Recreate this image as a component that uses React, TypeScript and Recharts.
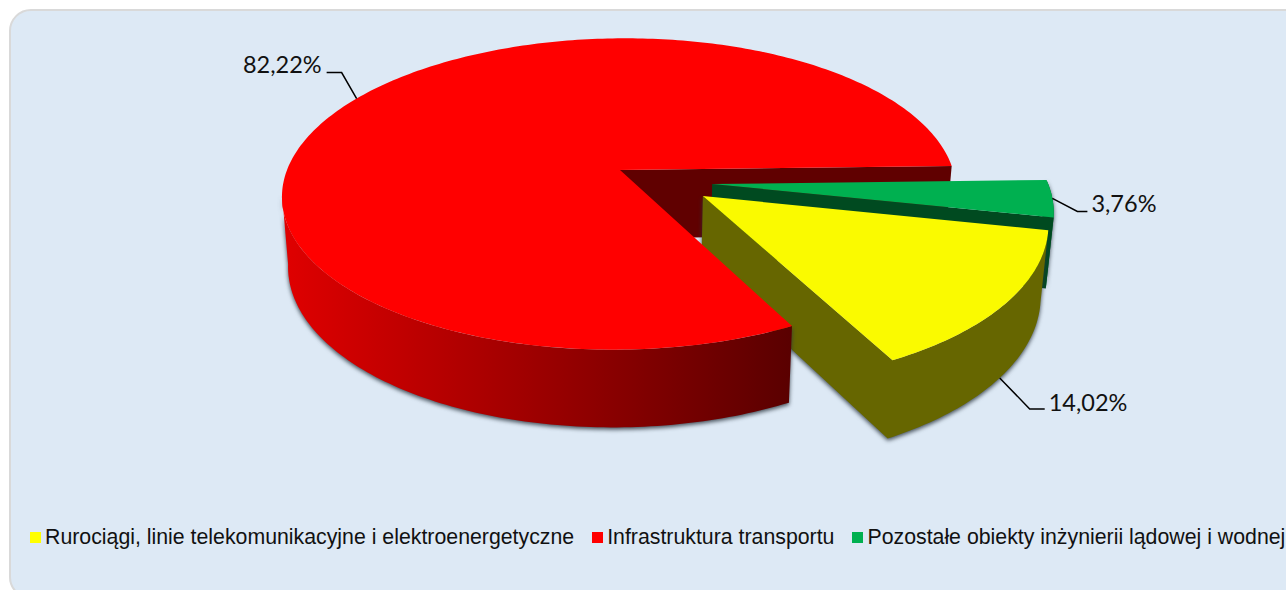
import { Legend, Pie, PieChart } from 'recharts';

const categories = [
  'Rurociągi, linie telekomunikacyjne i elektroenergetyczne',
  'Infrastruktura transportu',
  'Pozostałe obiekty inżynierii lądowej i wodnej',
];
const shares = [14.02, 82.22, 3.76];
const topColors = ['#FAFA00', '#FF0000', '#00B050'];
const legendColors = ['#FFFF00', '#FF0000', '#00B050'];

const pieData = categories.map((name, i) => ({ name, value: shares[i], fill: legendColors[i] }));

// fake 3d: the flat disc is run through a small perspective projection
const RY_RATIO = 152 / 333;
const PERSPECTIVE = 0.154;
const SHEAR = 0.04;
const FLOOR_SCALE = 0.982;
const DEPTH = 68.5;
const RED_WALL_END = -171;

// exploded slices, in disc units
const explode = [
  { u: 0.2455, v: -0.167, rim: 0.995 },
  { u: 0, v: 0, rim: 1 },
  { u: 0.2746, v: -0.091, rim: 0.995 },
];

// leader line elbows from the anchor point
const leaders = [
  { dx: 30, dy: 31, run: 15, onFloor: true, textY: -4 },
  { dx: -15, dy: -26, run: -15, onFloor: false, textY: -5 },
  { dx: 25, dy: 13, run: 10, onFloor: false, textY: -5 },
];

const rad = (deg: number) => (deg * Math.PI) / 180;

function project(cx: number, cy: number, r: number, u: number, v: number, floor = false) {
  const w = 1 + PERSPECTIVE * v;
  const y = (-r * RY_RATIO * v) / w;
  const x = (r * u) / w - SHEAR * y;
  if (!floor) return { x: cx + x, y: cy + y };
  return { x: cx + x * FLOOR_SCALE, y: cy + y * FLOOR_SCALE + DEPTH / w };
}

function rimPoint(p: any, i: number, angle: number, floor = false) {
  const off = explode[i];
  const u = Math.cos(rad(angle)) * off.rim + off.u;
  const v = Math.sin(rad(angle)) * off.rim + off.v;
  return project(p.cx, p.cy, p.outerRadius, u, v, floor);
}

function apexPoint(p: any, i: number, floor = false) {
  return project(p.cx, p.cy, p.outerRadius, explode[i].u, explode[i].v, floor);
}

function rim(p: any, i: number, from: number, to: number, floor = false) {
  const steps = Math.max(2, Math.ceil(Math.abs(to - from)));
  const pts = [];
  for (let s = 0; s <= steps; s++) pts.push(rimPoint(p, i, from + ((to - from) * s) / steps, floor));
  return pts;
}

const toPath = (pts: { x: number; y: number }[]) =>
  'M' + pts.map((q) => `${q.x.toFixed(2)},${q.y.toFixed(2)}`).join('L') + 'Z';

const wallShadow = { filter: 'drop-shadow(0px 2px 2px rgba(40,50,60,0.85))' };

function TopFace(props: any) {
  const i = categories.indexOf(props.name);
  const pts = [apexPoint(props, i), ...rim(props, i, props.startAngle, props.endAngle)];
  return <path d={toPath(pts)} fill={topColors[i]} />;
}

function RedCutWall(props: any) {
  const i = categories.indexOf(props.name);
  if (i !== 1) return <g />;
  const a = props.endAngle;
  const pts = [apexPoint(props, i), rimPoint(props, i, a), rimPoint(props, i, a, true), apexPoint(props, i, true)];
  return <path d={toPath(pts)} fill="#600000" />;
}

function GreenWalls(props: any) {
  const i = categories.indexOf(props.name);
  if (i !== 2) return <g />;
  const a = props.startAngle;
  const b = props.endAngle;
  const outer = [...rim(props, i, a, b), ...rim(props, i, a, b, true).reverse()];
  const cut = [apexPoint(props, i), rimPoint(props, i, b), rimPoint(props, i, b, true), apexPoint(props, i, true)];
  return (
    <g>
      <path d={toPath(outer)} fill="#00602F" style={wallShadow} />
      <path d={toPath(cut)} fill="#004A20" />
    </g>
  );
}

function YellowWalls(props: any) {
  const i = categories.indexOf(props.name);
  if (i !== 0) return <g />;
  const pts = [
    apexPoint(props, i),
    ...rim(props, i, props.endAngle, props.startAngle),
    ...rim(props, i, props.endAngle, props.startAngle, true).reverse(),
    apexPoint(props, i, true),
  ];
  return <path d={toPath(pts)} fill="#666600" style={wallShadow} />;
}

function RedWall(props: any) {
  const i = categories.indexOf(props.name);
  if (i !== 1) return <g />;
  const pts = [
    ...rim(props, i, props.startAngle, RED_WALL_END),
    ...rim(props, i, props.startAngle, RED_WALL_END, true).reverse(),
  ];
  return <path d={toPath(pts)} fill="url(#redWall)" style={wallShadow} />;
}

function renderLabel(props: any) {
  const i = categories.indexOf(props.name);
  const lead = leaders[i];
  const start = rimPoint(props, i, props.midAngle, lead.onFloor);
  const ex = start.x + lead.dx;
  const ey = start.y + lead.dy;
  const endX = ex + lead.run;
  const left = lead.run > 0;
  return (
    <g key={props.name}>
      <polyline
        points={`${start.x},${start.y} ${ex},${ey} ${endX},${ey}`}
        fill="none"
        stroke="#000"
        strokeWidth={1.5}
      />
      <text
        x={endX + (left ? 4 : -5)}
        y={ey + lead.textY}
        textAnchor={left ? 'start' : 'end'}
        dominantBaseline="middle"
        fontFamily="Lato, sans-serif"
        fontSize={23.5}
        fill="#111"
      >
        {props.value.toFixed(2).replace('.', ',')}%
      </text>
    </g>
  );
}

function LegendRow({ payload }: any) {
  const items = (payload || [])
    .filter((item: any) => item.type !== 'none')
    .sort((a: any, b: any) => categories.indexOf(a.value) - categories.indexOf(b.value));
  return (
    <div style={{ display: 'flex', whiteSpace: 'nowrap', fontFamily: '"Liberation Sans", Arial, sans-serif', fontSize: 21.3, color: '#111' }}>
      {items.map((item: any) => (
        <span key={item.value} style={{ display: 'inline-flex', alignItems: 'center', marginRight: 18 }}>
          <span style={{ width: 11, height: 11, background: item.color, marginRight: 4 }} />
          {item.value}
        </span>
      ))}
    </div>
  );
}

const layers = [RedCutWall, GreenWalls, YellowWalls, RedWall, TopFace];

export default function App() {
  return (
    <div style={{ position: 'absolute', left: 0, top: 0, width: 1286, height: 590, overflow: 'hidden', background: '#fff' }}>
      <div
        style={{
          position: 'absolute',
          left: 9,
          top: 9,
          width: 1300,
          height: 590,
          boxSizing: 'border-box',
          background: '#DDE9F5',
          border: '2px solid #D9D9D9',
          borderRadius: 22,
        }}
      />
      <div style={{ position: 'absolute', left: 0, top: 0 }}>
        <PieChart width={1286} height={590} margin={{ top: 0, right: 0, bottom: 0, left: 0 }}>
          <defs>
            <linearGradient id="redWall" gradientUnits="userSpaceOnUse" x1={281} y1={0} x2={790} y2={0}>
              <stop offset="0%" stopColor="#E00000" />
              <stop offset="100%" stopColor="#5A0000" />
            </linearGradient>
          </defs>
          {layers.map((Layer, n) => (
            <Pie
              key={n}
              data={pieData}
              dataKey="value"
              nameKey="name"
              cx={620}
              cy={170}
              outerRadius={333}
              startAngle={-12}
              endAngle={-372}
              stroke="none"
              isAnimationActive={false}
              legendType={n === layers.length - 1 ? 'square' : 'none'}
              shape={(p: any) => <Layer {...p} />}
              label={n === layers.length - 1 ? renderLabel : false}
              labelLine={false}
            />
          ))}
          <Legend
            content={<LegendRow />}
            wrapperStyle={{ position: 'absolute', left: 30, top: 525, width: 1300, bottom: 'auto' }}
          />
        </PieChart>
      </div>
    </div>
  );
}
